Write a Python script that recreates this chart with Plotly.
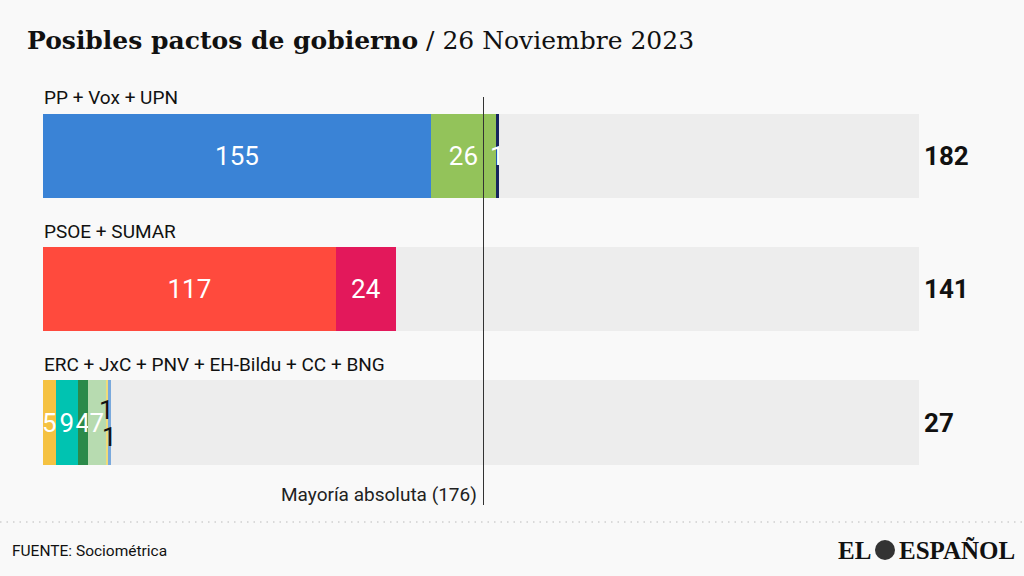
import plotly.graph_objects as go

# Datos: escaños por partido en cada pacto (Sociométrica, 26 nov 2023)
coaliciones = ["PP + Vox + UPN", "PSOE + SUMAR", "ERC + JxC + PNV + EH-Bildu + CC + BNG"]
partidos = ["PP", "Vox", "UPN", "PSOE", "SUMAR", "ERC", "JxC", "PNV", "EH-Bildu", "CC", "BNG"]
pacto_de = [0, 0, 0, 1, 1, 2, 2, 2, 2, 2, 2]
escanos = [155, 26, 1, 117, 24, 5, 9, 4, 7, 1, 1]
colores = ["#3a83d6", "#93c35a", "#16255e", "#ff4a3d", "#e3185b",
           "#f5c242", "#00c3b1", "#2b8a4a", "#b7dbb0", "#efdc7a", "#7aa9dc"]
texto_oscuro = ["CC", "BNG"]
total_congreso = 350
mayoria = 176

BG = "#f9f9f9"
TRACK = "#ededed"
SANS = "Roboto"
W, H = 1024, 576
L, R, T, B = 43, 919, 89, 494


def px(xp):
    return (xp - L) / (R - L)


def py(yp):
    return (B - yp) / (B - T)


fig = go.Figure()

for nombre, idx, n, col in zip(partidos, pacto_de, escanos, colores):
    fig.add_trace(go.Bar(
        name=nombre,
        y=[coaliciones[idx]],
        x=[n],
        orientation="h",
        marker=dict(color=col, line=dict(width=0)),
        text=[str(n)] if nombre not in texto_oscuro else None,
        textposition="inside",
        insidetextanchor="middle",
        textangle=0,
        textfont=dict(family=SANS, size=26, color="white"),
        hoverinfo="name+x",
    ))

totales = [sum(n for n, i in zip(escanos, pacto_de) if i == k) for k in range(len(coaliciones))]
restos = [total_congreso - t for t in totales]

fig.add_trace(go.Bar(
    y=coaliciones, x=restos, orientation="h",
    marker=dict(color=TRACK, line=dict(width=0)),
    hoverinfo="skip", showlegend=False,
))

annotations = []
# etiquetas de los pactos y totales
for k, (c, t) in enumerate(zip(coaliciones, totales)):
    annotations.append(dict(x=0, y=c, xref="x", yref="y", text=c, showarrow=False,
                            xanchor="left", yanchor="middle", yshift=58, xshift=-1,
                            font=dict(family=SANS, size=19, color="#111")))
    annotations.append(dict(x=total_congreso, y=c, xref="x", yref="y", text=f"<b>{t}</b>",
                            showarrow=False, xanchor="left", yanchor="middle", xshift=3,
                            font=dict(family=SANS, size=26, color="#111")))

# "1" escalonados de CC y BNG
acum = 0
for nombre, idx, n in zip(partidos, pacto_de, escanos):
    if idx != 2:
        continue
    if nombre in texto_oscuro:
        annotations.append(dict(x=acum + n / 2, y=coaliciones[idx], xref="x", yref="y",
                                text=str(n), showarrow=False,
                                yshift=13 if nombre == "CC" else -14,
                                font=dict(family=SANS, size=26, color="#111")))
    acum += n

annotations += [
    dict(x=mayoria, y=py(494), xref="x", yref="paper", text="Mayoría absoluta (176)",
         showarrow=False, xanchor="right", yanchor="middle", xshift=-5,
         font=dict(family=SANS, size=19, color="#222")),
    dict(x=px(25), y=py(40), xref="paper", yref="paper",
         text="<b>Posibles pactos de gobierno</b> / 26 Noviembre 2023",
         showarrow=False, xanchor="left", yanchor="middle",
         font=dict(family="DejaVu Serif", size=25, color="#111")),
    dict(x=px(10), y=py(551), xref="paper", yref="paper", text="FUENTE: Sociométrica",
         showarrow=False, xanchor="left", yanchor="middle",
         font=dict(family=SANS, size=15.5, color="#111")),
    dict(x=px(873), y=py(550), xref="paper", yref="paper", text="<b>EL</b>",
         showarrow=False, xanchor="right", yanchor="middle",
         font=dict(family="Liberation Serif", size=25, color="#111")),
    dict(x=px(897), y=py(550), xref="paper", yref="paper", text="<b>ESPAÑOL</b>",
         showarrow=False, xanchor="left", yanchor="middle",
         font=dict(family="Liberation Serif", size=25, color="#111")),
]

shapes = [
    dict(type="line", xref="x", yref="paper", x0=mayoria, x1=mayoria,
         y0=py(505), y1=py(97), line=dict(color="#333", width=1), layer="above"),
    dict(type="line", xref="paper", yref="paper", x0=px(0), x1=px(W), y0=py(522), y1=py(522),
         line=dict(color="#cfcfcf", width=1.5, dash="1.5px,5px")),
    dict(type="circle", xref="paper", yref="paper", x0=px(875), x1=px(895),
         y0=py(560), y1=py(540), fillcolor="#333", line=dict(width=0)),
]

fig.update_layout(
    width=W, height=H,
    barmode="stack",
    bargap=0.37,
    showlegend=False,
    paper_bgcolor=BG, plot_bgcolor=BG,
    margin=dict(l=L, r=W - R, t=T, b=H - B),
    uniformtext=dict(mode=False),
    xaxis=dict(range=[0, total_congreso], visible=False, fixedrange=True),
    yaxis=dict(categoryorder="array", categoryarray=coaliciones, autorange="reversed",
               visible=False, fixedrange=True),
    annotations=annotations,
    shapes=shapes,
)
fig.update_traces(selector=dict(type="bar"), cliponaxis=False, constraintext="none")

fig.write_html("out.html", config=dict(displayModeBar=False),
               post_script="document.body.style.margin='0';document.body.style.background='%s';" % BG)
